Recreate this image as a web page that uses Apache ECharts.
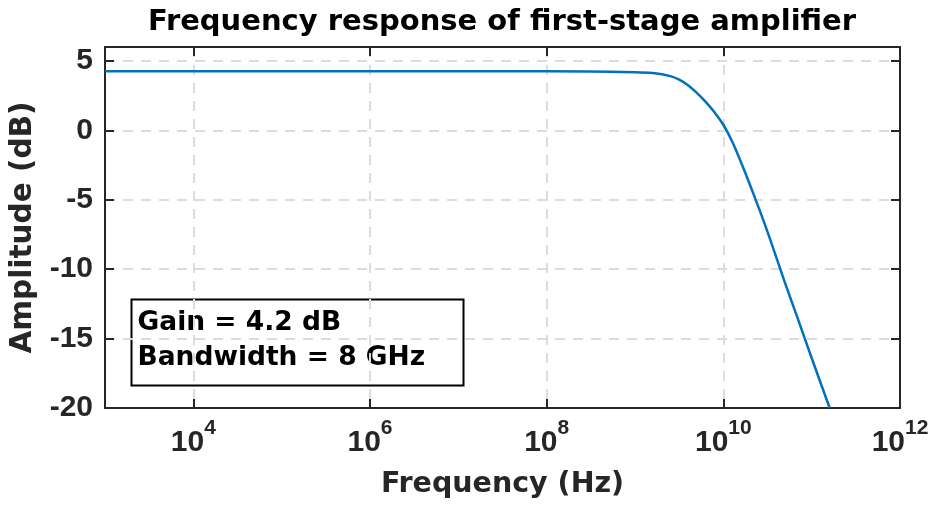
<!DOCTYPE html>
<html>
<head>
<meta charset="utf-8">
<script src="https://cdn.jsdelivr.net/npm/echarts@6/dist/echarts.min.js"></script>
<style>
  html, body { margin: 0; padding: 0; background: #fff; }
  #main { width: 936px; height: 512px; }
</style>
</head>
<body>
<div id="main"></div>
<script>
    // values
    var freqs = [1e3, 1e8, 1e9, 1.585e9, 2.512e9, 3.162e9, 3.981e9, 5.012e9, 6.31e9, 7.943e9, 1e10, 1.259e10, 1.585e10, 1.995e10, 3e10, 5e10, 7e10, 1e11, 1.6e11];
    var amps = [4.25, 4.25, 4.19, 4.12, 3.9, 3.65, 3.25, 2.7, 2.05, 1.3, 0.4, -0.8, -2.3, -3.9, -6.9, -11.0, -13.6, -16.4, -20];
    var xTicks = [1e4, 1e6, 1e8, 1e10, 1e12];
    var yTicks = [-20, -15, -10, -5, 0, 5];
    var noteLines = ['Gain = 4.2 dB', 'Bandwidth = 8 GHz'];

    var wordFont = '"DejaVu Sans", "Liberation Sans", Arial, sans-serif';
    var numFont = '"Liberation Sans", Arial, Helvetica, sans-serif';
    var axisColor = '#262626';

    var points = [];
    for (var i = 0; i < freqs.length; i++) {
        points.push([freqs[i], amps[i]]);
    }

    function powLabel(v) {
        var e = Math.round(Math.log10(v));
        return '{b|10}{s|' + e + '}';
    }

    var myChart = echarts.init(document.getElementById('main'), null, {renderer: 'canvas'});

    var gridLine = {
        show: true,
        lineStyle: {color: '#dcdcdc', width: 2, type: [10, 8]}
    };
    var boxLine = {show: true, onZero: false, lineStyle: {color: axisColor, width: 2}};
    var tickStyle = {color: axisColor, width: 2};

    var option = {
        animation: false,
        title: {
            text: 'Frequency response of first-stage amplifier',
            left: 502,
            top: 8,
            padding: 0,
            textAlign: 'center',
            textStyle: {fontSize: 29, fontWeight: 'bold', color: '#000', fontFamily: wordFont}
        },
        grid: {left: 105, right: 36, top: 47, bottom: 104},
        xAxis: [{
            type: 'log',
            logBase: 10,
            min: 1e3,
            max: 1e12,
            position: 'bottom',
            name: 'Frequency (Hz)',
            nameLocation: 'middle',
            nameGap: 62,
            nameTextStyle: {fontSize: 28.5, fontWeight: 'bold', color: axisColor, fontFamily: wordFont},
            axisLine: boxLine,
            axisTick: {show: true, inside: true, length: 9, customValues: xTicks, lineStyle: tickStyle},
            axisLabel: {
                customValues: xTicks,
                margin: 10,
                formatter: powLabel,
                rich: {
                    b: {fontSize: 30, fontWeight: 'bold', color: axisColor, fontFamily: numFont, lineHeight: 40, verticalAlign: 'bottom'},
                    s: {fontSize: 21, fontWeight: 'bold', color: axisColor, fontFamily: numFont, lineHeight: 40, verticalAlign: 'top'}
                }
            },
            splitLine: gridLine,
            minorTick: {show: false},
            minorSplitLine: {show: false}
        }, {
            type: 'log',
            logBase: 10,
            min: 1e3,
            max: 1e12,
            position: 'top',
            axisLine: boxLine,
            axisTick: {show: true, inside: true, length: 9, customValues: xTicks, lineStyle: tickStyle},
            axisLabel: {show: false},
            splitLine: {show: false}
        }],
        yAxis: [{
            type: 'value',
            min: -20,
            max: 6,
            interval: 5,
            position: 'left',
            name: 'Amplitude (dB)',
            nameLocation: 'middle',
            nameGap: 60,
            nameTextStyle: {fontSize: 29.5, fontWeight: 'bold', color: axisColor, fontFamily: wordFont},
            axisLine: boxLine,
            axisTick: {show: true, inside: true, length: 9, customValues: yTicks, lineStyle: tickStyle},
            axisLabel: {
                customValues: yTicks,
                margin: 12,
                fontSize: 30,
                fontWeight: 'bold',
                color: axisColor,
                fontFamily: numFont
            },
            splitLine: gridLine
        }, {
            type: 'value',
            min: -20,
            max: 6,
            interval: 5,
            position: 'right',
            axisLine: boxLine,
            axisTick: {show: true, inside: true, length: 9, customValues: yTicks, lineStyle: tickStyle},
            axisLabel: {show: false},
            splitLine: {show: false}
        }],
        series: [{
            type: 'line',
            xAxisIndex: 0,
            yAxisIndex: 0,
            data: points,
            showSymbol: false,
            smooth: 0.4,
            clip: true,
            lineStyle: {color: '#0072BD', width: 2.5},
            itemStyle: {color: '#0072BD'}
        }],
        graphic: [{
            type: 'group',
            left: 129,
            top: 297,
            z: 10,
            children: [{
                type: 'rect',
                shape: {x: 0, y: 0, width: 332, height: 86},
                style: {fill: 'none', stroke: '#000', lineWidth: 2}
            }, {
                type: 'text',
                x: 6,
                y: 6,
                style: {
                    text: noteLines.join('\n'),
                    fontSize: 26.5,
                    fontWeight: 'bold',
                    fontFamily: wordFont,
                    lineHeight: 35,
                    fill: '#000'
                }
            }]
        }]
    };

    myChart.setOption(option);
</script>
</body>
</html>
